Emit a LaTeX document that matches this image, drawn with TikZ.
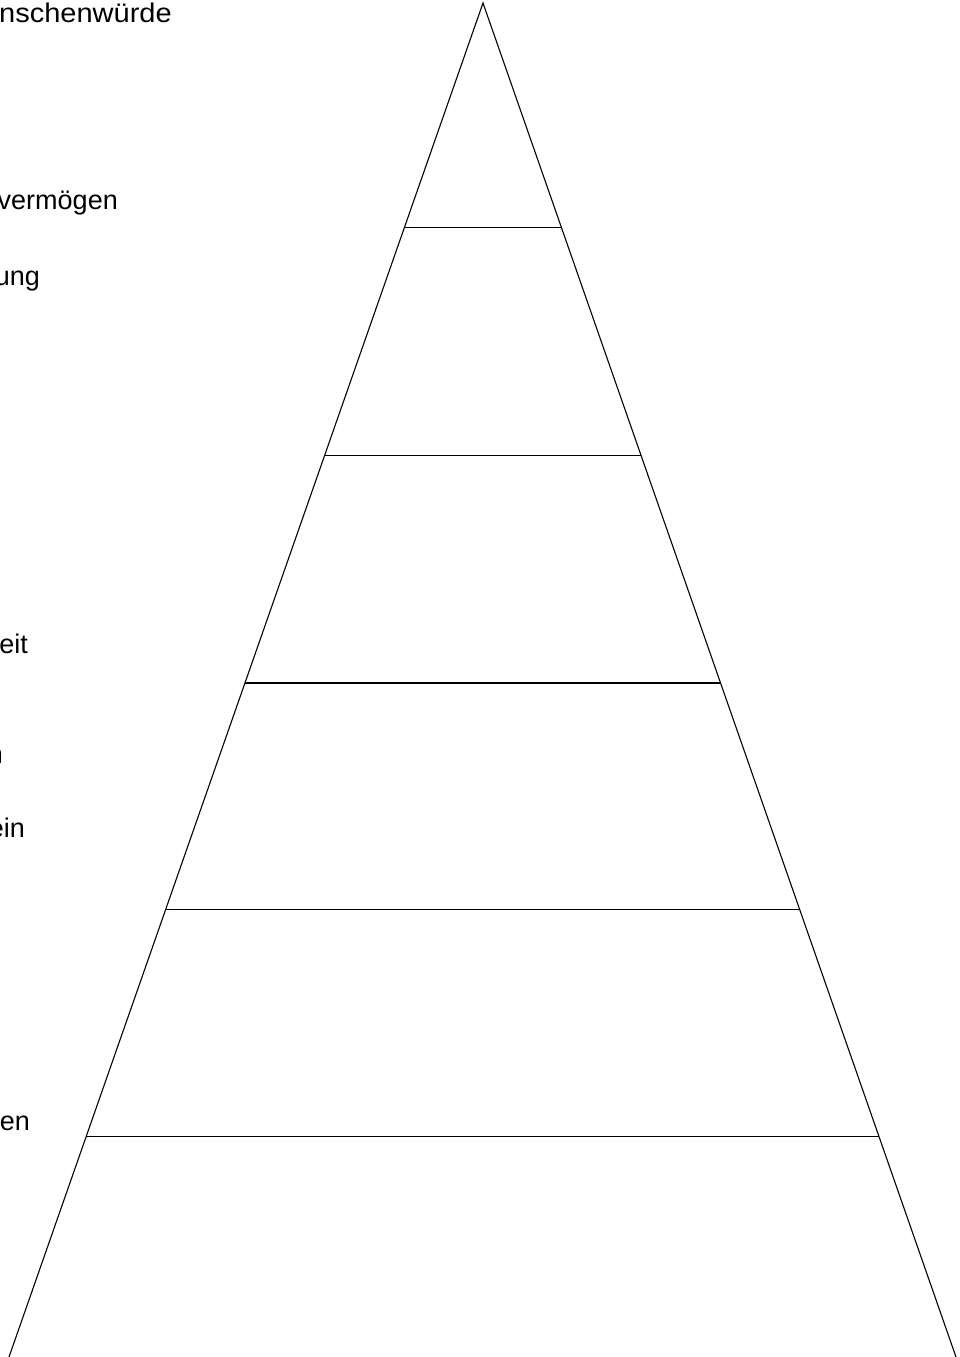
\documentclass[tikz,border=0pt]{standalone}
\usepackage{fontspec}
\setmainfont{Liberation Sans}
\usetikzlibrary{calc, positioning}

\begin{document}
\begin{tikzpicture}[
  x=1pt, y=-1pt,
  edge/.style={line width=1.1pt, black},
  rung/.style={line width=1.1pt, black},
  cuttext/.style={anchor=base east, inner sep=0pt, font=\fontsize{27}{31}\selectfont},
]
\useasboundingbox (0,0) rectangle (960,1357);
\clip (0,0) rectangle (960,1357);

% pyramid outline (open at the bottom)
\coordinate (top) at (483,3);
\coordinate (bl) at (9,1357);
\coordinate (br) at (956,1357);
\draw[edge] (bl) -- (top) -- (br);

% levels
\foreach \t [count=\i] in {0.1657,0.3343,0.5022,0.6694,0.8373}
  \draw[rung] ($(top)!\t!(bl)$) coordinate (l\i) -- ($(top)!\t!(br)$) coordinate (r\i);

% labels, cut off at the left margin
\node[cuttext] (wuerde) at (172,22) {\scalebox{1.075}[1]{nschenwürde}};
\node[cuttext] (vermoegen) at (118,209) {vermögen};
\node[cuttext] (ung) at (40,285) {ung};
\node[cuttext] (eit) at (28,653) {eit};
\node[cuttext] (n) at (3,763) {n};
\node[cuttext] (ein) at (25,837) {ein};
\node[cuttext] (en) at (30,1130) {en};

\end{tikzpicture}
\end{document}
